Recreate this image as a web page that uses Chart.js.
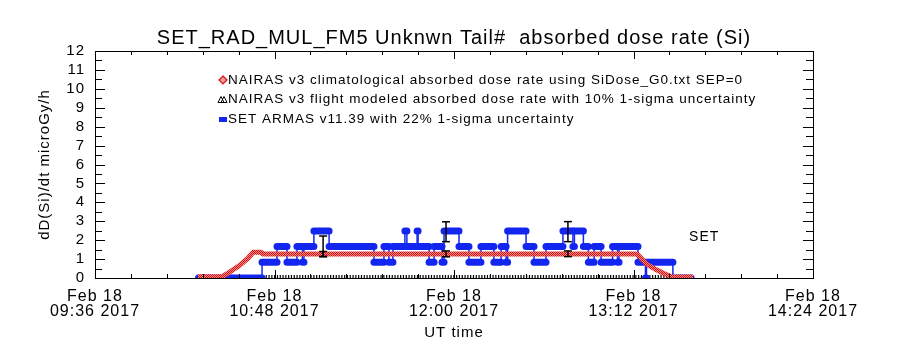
<!DOCTYPE html>
<html lang="en">
<head>
<meta charset="utf-8">
<title>SET_RAD_MUL_FM5 absorbed dose rate (Si)</title>
<script src="https://cdn.jsdelivr.net/npm/chart.js@4.4.1/dist/chart.umd.min.js"></script>
<style>
  html, body { margin: 0; padding: 0; background: #ffffff; }
  .caixa { position: relative; width: 900px; height: 350px; }
</style>
</head>
<body>
<div class="caixa"><canvas id="dose-chart"></canvas></div>
<script>
// X axis is in minutes of the day (UT), Feb 18 2017
const clockLabels = ['09:36', '10:48', '12:00', '13:12', '14:24'];
const dayLabel = 'Feb 18';
const yearLabel = '2017';
const timeMin = 576;   // 09:36
const timeMax = 864;   // 14:24
const timeStep = 72;

const seriesNames = [
  'NAIRAS v3 climatological absorbed dose rate using SiDose_G0.txt SEP=0',
  'NAIRAS v3 flight modeled absorbed dose rate with 10% 1-sigma uncertainty',
  'SET ARMAS v11.39 with 22% 1-sigma uncertainty'
];

// NAIRAS climatological (red)
const climTime = [617.3, 627.0, 630.2, 634.2, 637.4, 639.4, 642.6, 643.4, 793.4, 797.4, 801.4, 805.4, 807.8, 815.9];
const climDose = [0.07, 0.07, 0.33, 0.69, 1.05, 1.36, 1.36, 1.27, 1.27, 0.72, 0.42, 0.16, 0.05, 0.05];

// NAIRAS flight modeled (black triangles, on the floor)
const flightTime = [617.5, 815.5];
const flightDose = [0, 0];

// SET ARMAS (blue): time each level starts, the level, and end of record
const setTime = [617.5, 643.0, 649.0, 653.0, 657.0, 659.2, 659.8, 663.8, 669.9, 687.9,
                 691.9, 693.9, 695.5, 700.3, 701.1, 705.2, 705.6, 710.0, 712.0, 715.2,
                 716.0, 722.0, 726.0, 730.8, 736.0, 738.9, 740.9, 741.5, 748.9, 752.1,
                 756.9, 763.7, 767.7, 768.3, 771.9, 773.9, 776.2, 779.0, 783.6, 785.6,
                 786.2, 793.8, 796.8, 797.2, 807.8];
const setDose = [0, 0.83, 1.66, 0.83, 1.66, 0.83, 1.66, 2.49, 1.66, 0.83,
                 1.66, 0.83, 1.66, 2.49, 1.66, 2.49, 1.66, 0.83, 1.66, 0.83,
                 2.49, 1.66, 0.83, 1.66, 0.83, 1.66, 0.83, 2.49, 1.66, 0.83,
                 1.66, 2.49, 1.66, 2.49, 1.66, 0.83, 1.66, 0.83, 1.66, 0.83,
                 1.66, 0.83, 0, 0.83, 0];
const setEnd = 815.1;

// uncertainty bars
const errTime = [667.5, 716.8, 765.7];
const setErrLow = [1.12, 1.92, 1.92];
const setErrHigh = [2.22, 2.97, 2.98];
const flightErrLow = [1.14, 1.12, 1.13];
const flightErrHigh = [1.40, 1.43, 1.43];

// text note inside the plot
const noteText = 'SET';
const noteTime = 814.3;
const noteDose = 2.17;

const FONTE = "'Liberation Sans', Arial, sans-serif";
const AZUL = 'rgb(18, 38, 240)';

// red / light red checker like the dense open diamonds
const xadrez = () => {
  const c = document.createElement('canvas');
  c.width = 2; c.height = 2;
  const g = c.getContext('2d');
  g.fillStyle = '#f29090'; g.fillRect(0, 0, 2, 2);
  g.fillStyle = '#dc0c0c'; g.fillRect(0, 0, 1, 1); g.fillRect(1, 1, 1, 1);
  return g.createPattern(c, 'repeat');
};

const climPoints = climTime.map((t, i) => ({ x: t, y: climDose[i] }));
const flightPoints = flightTime.map((t, i) => ({ x: t, y: flightDose[i] }));
const setPoints = [];
setDose.forEach((v, i) => {
  const fim = i + 1 < setTime.length ? setTime[i + 1] : setEnd;
  setPoints.push({ x: setTime[i], y: v }, { x: fim, y: v });
});
const barPoints = (lo, hi) => errTime.flatMap((t, i) => [
  { x: t, y: lo[i] }, { x: t, y: hi[i] }, { x: t, y: null }
]);

// wide spacing like the vector font of the original
const espacamento = {
  id: 'espacamento',
  beforeLayout(chart) { chart.ctx.letterSpacing = '1px'; },
  beforeDraw(chart) { chart.ctx.letterSpacing = '1px'; }
};

// frame with inward ticks on all four sides
const moldura = {
  id: 'moldura',
  afterDraw(chart) {
    const { ctx, chartArea: a, scales: { x, y } } = chart;
    ctx.save();
    ctx.strokeStyle = '#000';
    ctx.lineWidth = 1;
    ctx.strokeRect(Math.round(a.left) + 0.5, Math.round(a.top) + 0.5,
                   Math.round(a.right - a.left), Math.round(a.bottom - a.top));
    ctx.beginPath();
    for (let k = 0; k <= 20; k++) {
      const px = Math.round(x.getPixelForValue(timeMin + k * timeStep / 5)) + 0.5;
      const len = k % 5 === 0 ? 8 : 4;
      ctx.moveTo(px, a.top); ctx.lineTo(px, a.top + len);
      ctx.moveTo(px, a.bottom); ctx.lineTo(px, a.bottom - len);
    }
    for (let k = 0; k <= 24; k++) {
      const py = Math.round(y.getPixelForValue(k * 0.5)) + 0.5;
      const len = k % 2 === 0 ? 10 : 7;
      ctx.moveTo(a.left, py); ctx.lineTo(a.left + len, py);
      ctx.moveTo(a.right, py); ctx.lineTo(a.right - len, py);
    }
    ctx.stroke();
    ctx.restore();
  }
};

const marcador = (ctx, i, x, y) => {
  ctx.save();
  if (i === 0) {
    ctx.beginPath();
    ctx.moveTo(x, y - 4); ctx.lineTo(x + 4, y); ctx.lineTo(x, y + 4); ctx.lineTo(x - 4, y);
    ctx.closePath();
    ctx.fillStyle = '#f39a9a'; ctx.fill();
    ctx.strokeStyle = '#d41010'; ctx.lineWidth = 1.2; ctx.stroke();
  } else if (i === 1) {
    ctx.strokeStyle = '#000'; ctx.lineWidth = 1;
    [-2, 1].forEach(d => {
      ctx.beginPath();
      ctx.moveTo(x + d - 3, y + 3); ctx.lineTo(x + d, y - 3); ctx.lineTo(x + d + 3, y + 3);
      ctx.closePath(); ctx.stroke();
    });
  } else {
    ctx.fillStyle = AZUL;
    ctx.fillRect(x - 4, y - 2, 8, 5);
  }
  ctx.restore();
};

const legenda = {
  id: 'legenda',
  afterDatasetsDraw(chart) {
    const { ctx, chartArea: a } = chart;
    ctx.save();
    ctx.font = '13.5px ' + FONTE;
    ctx.textBaseline = 'middle';
    seriesNames.forEach((nome, i) => {
      const yy = a.top + 29 + i * 19.5;
      const xx = a.left + 128;
      marcador(ctx, i, xx, yy);
      ctx.fillStyle = '#000';
      ctx.fillText(nome, xx + 5, yy);
    });
    ctx.restore();
  }
};

const nota = {
  id: 'nota',
  afterDatasetsDraw(chart) {
    const { ctx, scales: { x, y } } = chart;
    ctx.save();
    ctx.font = '14px ' + FONTE;
    ctx.fillStyle = '#000';
    ctx.textBaseline = 'middle';
    ctx.fillText(noteText, x.getPixelForValue(noteTime), y.getPixelForValue(noteDose));
    ctx.restore();
  }
};

const barra = {
  borderColor: '#000', borderWidth: 1.5, pointStyle: 'line', pointRadius: 4,
  pointBorderWidth: 1.5, pointBorderColor: '#000', spanGaps: false, clip: 0
};

new Chart(document.getElementById('dose-chart'), {
  type: 'line',
  data: {
    datasets: [
      Object.assign({ label: 'SET error', data: barPoints(setErrLow, setErrHigh) }, barra),
      Object.assign({ label: 'NAIRAS error', data: barPoints(flightErrLow, flightErrHigh) }, barra),
      {
        label: seriesNames[0], data: climPoints, borderColor: xadrez(), borderWidth: 5,
        borderJoinStyle: 'round', pointRadius: 0, clip: 0
      },
      {
        label: seriesNames[2], data: setPoints, borderColor: AZUL, borderWidth: 1.5,
        pointRadius: 0, clip: 0,
        segment: {
          borderWidth: c => c.p0.parsed.y === c.p1.parsed.y ? 7 : 1.5,
          borderCapStyle: c => c.p0.parsed.y === c.p1.parsed.y ? 'round' : 'butt'
        }
      },
      {
        label: seriesNames[1], data: flightPoints, borderColor: '#000', borderWidth: 6,
        borderDash: [1.2, 1.6], pointRadius: 0, clip: 0
      }
    ]
  },
  options: {
    responsive: true,
    maintainAspectRatio: false,
    animation: false,
    layout: { padding: { left: 0, right: 87, top: 0, bottom: 0 } },
    plugins: {
      legend: { display: false },
      tooltip: { enabled: false },
      title: {
        display: true,
        text: 'SET_RAD_MUL_FM5 Unknwn Tail#  absorbed dose rate (Si)',
        fullSize: false,
        color: '#000',
        font: { family: FONTE, size: 20, weight: 'normal' },
        padding: { top: 26, bottom: 1 }
      }
    },
    scales: {
      x: {
        type: 'linear',
        min: timeMin,
        max: timeMax,
        grid: { display: false, drawTicks: false },
        border: { display: false },
        ticks: {
          stepSize: timeStep,
          autoSkip: false,
          maxRotation: 0,
          padding: 11,
          color: '#000',
          font: { family: FONTE, size: 16, lineHeight: 0.95 },
          callback: (v, i) => [dayLabel, clockLabels[i] + ' ' + yearLabel]
        },
        title: {
          display: true, text: 'UT time', color: '#000',
          font: { family: FONTE, size: 15 }, padding: { top: 0, bottom: 8 }
        },
        afterFit: s => { s.height = 72; }
      },
      y: {
        min: 0,
        max: 12,
        grid: { display: false, drawTicks: false },
        border: { display: false },
        ticks: {
          stepSize: 1, autoSkip: false, padding: 10, color: '#000',
          font: { family: FONTE, size: 15 }
        },
        title: {
          display: true, text: 'dD(Si)/dt microGy/h', color: '#000',
          font: { family: FONTE, size: 15 }, padding: { top: 36, bottom: 0 }
        },
        afterFit: s => { s.width = 95; }
      }
    }
  },
  plugins: [espacamento, moldura, legenda, nota]
});
</script>
</body>
</html>
